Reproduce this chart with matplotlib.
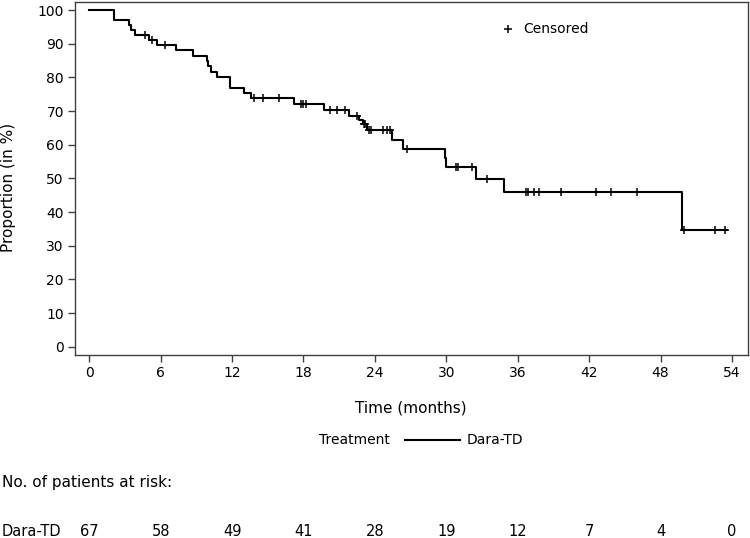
import numpy as np
import matplotlib
matplotlib.use("Agg")
import matplotlib.pyplot as plt

# Kaplan-Meier step curve (time in months, proportion in %)
step_times = [0.0, 2.1, 3.3, 3.5, 3.8, 5.0, 5.7, 7.3, 8.7, 9.9, 10.0, 10.2, 10.7,
              11.8, 13.0, 13.6, 17.2, 19.7, 21.8, 22.7, 23.0, 23.3, 25.4, 26.4,
              29.85, 29.95, 32.5, 34.85, 49.8]
step_surv = [100.0, 97.0, 95.5, 94.0, 92.5, 91.0, 89.5, 88.0, 86.3, 84.8, 83.3, 81.7, 80.0,
             76.9, 75.3, 73.8, 72.1, 70.4, 68.5, 67.3, 66.2, 64.3, 61.4, 58.8,
             56.0, 53.3, 49.8, 46.0, 34.6]
end_time = 53.6

censor_times = [4.7, 5.3, 6.4, 13.8, 14.6, 15.9, 17.8, 18.0, 18.2, 20.2, 20.8, 21.5,
                22.5, 23.1, 23.2, 23.5, 23.7, 24.7, 25.0, 25.3, 26.7, 30.8, 30.95,
                32.2, 33.4, 36.7, 36.9, 37.4, 37.8, 39.6, 42.6, 43.8, 46.0, 50.0,
                52.6, 53.4]

x_ticks = [0, 6, 12, 18, 24, 30, 36, 42, 48, 54]
y_ticks = [0, 10, 20, 30, 40, 50, 60, 70, 80, 90, 100]
at_risk = [67, 58, 49, 41, 28, 19, 12, 7, 4, 0]
group = "Dara-TD"

W, H = 750, 538
fig = plt.figure(figsize=(W / 100, H / 100), dpi=100)
plt.rcParams['font.family'] = ['DejaVu Sans']

L, R, T, B = 75, 748, 2, 355
ax = fig.add_axes([L / W, 1 - B / H, (R - L) / W, (B - T) / H])

xs = list(step_times) + [end_time]
ys = list(step_surv) + [step_surv[-1]]
ax.step(xs, ys, where='post', color='black', lw=1.5)

st = np.array(step_times)
sv = np.array(step_surv)
idx = np.searchsorted(st, np.array(censor_times), side='right') - 1
ax.plot(censor_times, sv[idx], linestyle='none', marker='+', color='black',
        markersize=6, markeredgewidth=1.1)

ax.set_xlim(-1.2, 55.35)
ax.set_ylim(-2.47, 102.4)
ax.set_xticks(x_ticks)
ax.set_yticks(y_ticks)
ax.tick_params(axis='both', direction='out', length=5, width=1, color='#404040',
               labelsize=10, pad=3)
for s in ax.spines.values():
    s.set_color('#404040')
    s.set_linewidth(1)

# censored legend
ax.plot([(508 - L) / (R - L)], [(B - 29) / (B - T)], transform=ax.transAxes,
        marker='+', color='black', markersize=6, markeredgewidth=1.1, linestyle='none')
fig.text(523 / W, 1 - 29 / H, "Censored", fontsize=10, va='center', ha='left')

fig.text(9 / W, 1 - 187 / H, "Proportion (in %)", fontsize=11, rotation=90,
         va='center', ha='center')
fig.text(411 / W, 1 - 408 / H, "Time (months)", fontsize=11, va='center', ha='center')

# treatment legend
fig.text(390 / W, 1 - 440 / H, "Treatment", fontsize=10, va='center', ha='right')
fig.add_artist(plt.Line2D([405 / W, 460 / W], [1 - 440 / H, 1 - 440 / H],
                          color='black', lw=1.5))
fig.text(467 / W, 1 - 440 / H, group, fontsize=10, va='center', ha='left')

fig.text(2 / W, 1 - 482 / H, "No. of patients at risk:", fontsize=11,
         va='center', ha='left')
fig.text(2 / W, 1 - 532 / H, group, fontsize=10.5, va='center', ha='left')
for xt, n in zip(x_ticks, at_risk):
    xp = ax.transData.transform((xt, 0))[0]
    fig.text(xp / W, 1 - 532 / H, str(n), fontsize=10.5, va='center', ha='center')

fig.savefig("out.png", dpi=100)
